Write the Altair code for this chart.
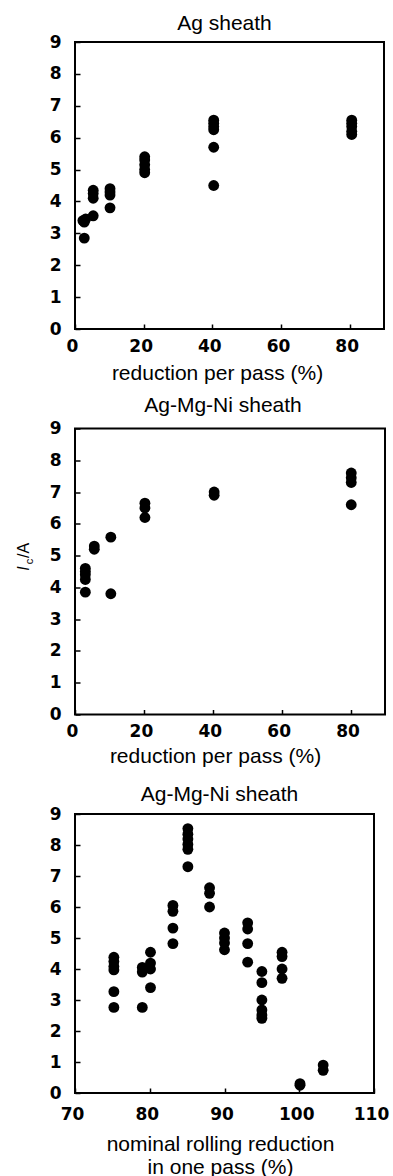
import altair as alt
import pandas as pd

# ---------------- data ----------------
# Panel 1: Ag sheath
p1_x = [2.3, 3.1, 2.7, 2.7,
        5.3, 5.3, 5.3, 5.3,
        10.2, 10.2, 10.2, 10.2,
        20.3, 20.3, 20.3, 20.3, 20.3,
        40.4, 40.4, 40.4, 40.4, 40.4, 40.4,
        80.6, 80.6, 80.6, 80.6, 80.6]
p1_y = [3.4, 3.45, 3.35, 2.85,
        4.35, 4.25, 4.1, 3.55,
        4.4, 4.3, 4.2, 3.8,
        5.4, 5.3, 5.15, 5.0, 4.9,
        6.55, 6.45, 6.35, 6.25, 5.7, 4.5,
        6.55, 6.45, 6.35, 6.2, 6.1]

# Panel 2: Ag-Mg-Ni sheath vs reduction per pass
p2_x = [3.0, 3.0, 3.0, 3.0, 3.0,
        5.6, 5.6,
        10.4, 10.4,
        20.3, 20.3, 20.3,
        40.4, 40.4,
        80.2, 80.2, 80.2, 80.2]
p2_y = [4.6, 4.5, 4.4, 4.25, 3.85,
        5.3, 5.2,
        5.58, 3.8,
        6.65, 6.5, 6.2,
        7.0, 6.9,
        7.6, 7.45, 7.3, 6.6]

# Panel 3: Ag-Mg-Ni sheath vs nominal rolling reduction
p3_x = [75.2, 75.2, 75.2, 75.2, 75.2, 75.2,
        79.0, 79.0, 79.0,
        80.1, 80.1, 80.1, 80.1,
        83.1, 83.1, 83.1, 83.1,
        85.1, 85.1, 85.1, 85.1, 85.1, 85.1,
        88.0, 88.0, 88.0,
        90.0, 90.0, 90.0, 90.0,
        93.1, 93.1, 93.1, 93.1,
        95.0, 95.0, 95.0, 95.0, 95.0, 95.0,
        97.7, 97.7, 97.7, 97.7,
        100.1, 100.1,
        103.2, 103.2]
p3_y = [4.38, 4.24, 4.08, 3.97, 3.27, 2.76,
        4.05, 3.9, 2.76,
        4.54, 4.19, 4.0, 3.4,
        6.05, 5.86, 5.32, 4.82,
        8.53, 8.35, 8.19, 8.02, 7.86, 7.3,
        6.62, 6.44, 6.0,
        5.16, 5.0, 4.84, 4.62,
        5.49, 5.29, 4.82, 4.22,
        3.92, 3.56, 3.0, 2.68, 2.52, 2.41,
        4.54, 4.4, 4.0, 3.7,
        0.3, 0.25,
        0.9, 0.73]

titles = ["Ag sheath", "Ag-Mg-Ni sheath", "Ag-Mg-Ni sheath"]
x_titles = ["reduction per pass (%)", "reduction per pass (%)",
            ["nominal rolling reduction", "in one pass (%)"]]
x_ticks_a = [0, 20, 40, 60, 80]
x_ticks_b = [70, 80, 90, 100, 110]
y_ticks = [0, 1, 2, 3, 4, 5, 6, 7, 8, 9]
y_label_parts = ["I", "c", "/A"]

FONT = "Liberation Sans"


def panel(xs, ys, title, xtitle, xdomain, xticks, w, h, lab_pad, title_pad,
          title_off, title_dx, title_x):
    df = pd.DataFrame({"x": xs, "y": ys})
    return alt.Chart(df).mark_circle(size=118, color="black", opacity=1).encode(
        x=alt.X("x:Q",
                scale=alt.Scale(domain=xdomain, nice=False, zero=False),
                axis=alt.Axis(values=xticks, title=xtitle, labelPadding=lab_pad,
                              titlePadding=title_pad, labelOffset=-3,
                              titleX=title_x, titleAlign="center",
                              titleLineHeight=23)),
        y=alt.Y("y:Q",
                scale=alt.Scale(domain=[0, 9], nice=False, zero=False),
                axis=alt.Axis(values=y_ticks, title=None, labelPadding=14)),
    ).properties(
        width=w, height=h,
        title=alt.TitleParams(title, offset=title_off, dx=title_dx,
                              baseline="alphabetic", anchor="middle"),
    )


c1 = panel(p1_x, p1_y, titles[0], x_titles[0], [0, 90], x_ticks_a,
           309, 287, 9, 8, -18, -5, 142)

pts2 = panel(p2_x, p2_y, titles[1], x_titles[1], [0, 90], x_ticks_a,
             310, 286, 9, 6, -13, -7, 140)

lab_i = alt.Chart(pd.DataFrame({"t": [y_label_parts[0]]})).mark_text(
    angle=270, align="center", baseline="alphabetic", font=FONT,
    fontSize=16, fontStyle="italic", color="black"
).encode(text="t:N", x=alt.value(-45.6), y=alt.value(140))
lab_c = alt.Chart(pd.DataFrame({"t": [y_label_parts[1]]})).mark_text(
    angle=270, align="center", baseline="alphabetic", font=FONT,
    fontSize=11, color="black"
).encode(text="t:N", x=alt.value(-42.0), y=alt.value(133))
lab_a = alt.Chart(pd.DataFrame({"t": [y_label_parts[2]]})).mark_text(
    angle=270, align="center", baseline="alphabetic", font=FONT,
    fontSize=16, color="black"
).encode(text="t:N", x=alt.value(-45.6), y=alt.value(122))

c2 = alt.layer(pts2, lab_i, lab_c, lab_a)

c3 = panel(p3_x, p3_y, titles[2], x_titles[2], [70, 110], x_ticks_b,
           299, 279, 13, 11, -17, -5, 145)

chart = alt.vconcat(c1, c2, c3, spacing=99.5, bounds="flush").properties(
    padding={"left": 15, "top": 12, "right": 0, "bottom": 0}
).configure_view(
    stroke="black", strokeWidth=2
).configure_axis(
    domain=False, grid=False, ticks=True, tickColor="black", tickWidth=1.5,
    tickSize=5, offset=-5, labelFont="DejaVu Sans", labelFontWeight="bold",
    labelFontSize=17, labelColor="black", labelFlush=False, labelOverlap=False,
    titleFont=FONT, titleFontSize=21, titleFontWeight="normal", titleColor="black"
).configure_title(
    font=FONT, fontSize=21, fontWeight="normal", color="black"
)

chart.save("out.html", embed_options={"renderer": "svg", "actions": False})
